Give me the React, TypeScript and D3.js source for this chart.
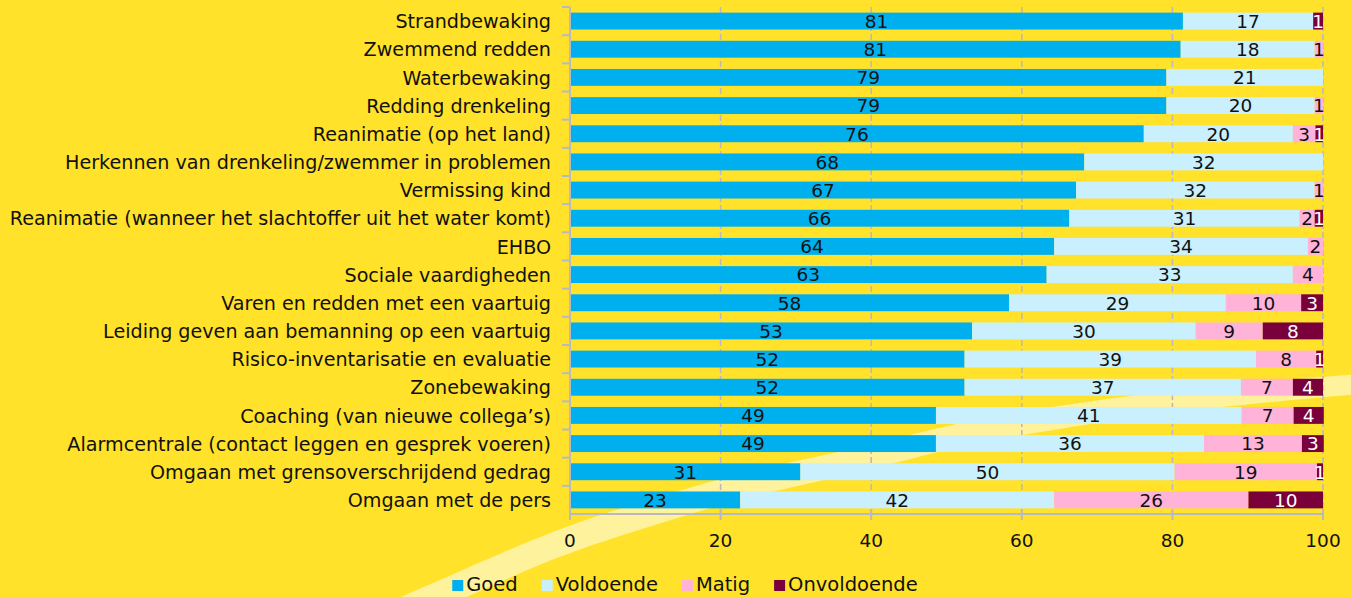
import React, { useEffect, useRef } from 'react';
import * as d3 from 'd3';

const categories = [
  'Strandbewaking',
  'Zwemmend redden',
  'Waterbewaking',
  'Redding drenkeling',
  'Reanimatie (op het land)',
  'Herkennen van drenkeling/zwemmer in problemen',
  'Vermissing kind',
  'Reanimatie (wanneer het slachtoffer uit het water komt)',
  'EHBO',
  'Sociale vaardigheden',
  'Varen en redden met een vaartuig',
  'Leiding geven aan bemanning op een vaartuig',
  'Risico-inventarisatie en evaluatie',
  'Zonebewaking',
  'Coaching (van nieuwe collega’s)',
  'Alarmcentrale (contact leggen en gesprek voeren)',
  'Omgaan met grensoverschrijdend gedrag',
  'Omgaan met de pers',
];

const goed = [81.4, 81.1, 79.2, 79.2, 76.2, 68.3, 67.2, 66.3, 64.3, 63.3, 58.3, 53.4, 52.4, 52.4, 48.6, 48.6, 30.6, 22.6];
const voldoende = [17.3, 17.8, 20.8, 19.7, 19.8, 31.7, 31.7, 30.6, 33.7, 32.7, 28.8, 29.7, 38.7, 36.7, 40.6, 35.6, 49.7, 41.7];
const matig = [0, 1.1, 0, 1.1, 3.0, 0, 1.1, 2.0, 2.0, 4.0, 10.0, 8.9, 8.0, 6.9, 6.9, 13.0, 18.9, 25.8];
const onvoldoende = [1.3, 0, 0, 0, 1.0, 0, 0, 1.1, 0, 0, 2.9, 8.0, 0.9, 4.0, 4.0, 2.9, 0.8, 9.9];

const seriesNames = ['Goed', 'Voldoende', 'Matig', 'Onvoldoende'];
const seriesColors = ['#00b0ee', '#c9f0fc', '#ffb3d9', '#7a003c'];
const labelColors = ['#111', '#111', '#111', '#fff'];
const xTicks = [0, 20, 40, 60, 80, 100];

// decorative light stripe behind the chart: centre line and thickness
const stripeCentre: [number, number][] = [
  [400, 612], [434, 597], [560, 543], [650, 513], [740, 487], [866, 458],
  [975, 432], [1170, 402], [1360, 384],
];

const W = 1351;
const H = 597;
const FONT = "'DejaVu Sans', sans-serif";

function App() {
  const ref = useRef<SVGSVGElement>(null);

  useEffect(() => {
    const svg = d3.select(ref.current);
    svg.selectAll('*').remove();

    const margin = { top: 7, right: 28, bottom: 83, left: 570 };
    const innerW = W - margin.left - margin.right;
    const innerH = H - margin.top - margin.bottom;

    svg.append('rect').attr('width', W).attr('height', H).attr('fill', '#ffe229');

    const thick = d3.scaleLinear().domain([430, 1351]).range([29, 20]).clamp(true);
    const topEdge = stripeCentre.map(([px, py]) => [px, py - thick(px) / 2] as [number, number]);
    const botEdge = stripeCentre.map(([px, py]) => [px, py + thick(px) / 2] as [number, number]).reverse();
    const edge = d3.line().curve(d3.curveCatmullRom);
    const stripePath = edge(topEdge) + 'L' + edge(botEdge)!.slice(1) + 'Z';
    svg.append('path').attr('d', stripePath).attr('fill', '#fff29c');

    const g = svg.append('g').attr('transform', `translate(${margin.left},${margin.top})`);

    const x = d3.scaleLinear().domain([0, 100]).range([0, innerW]);
    const y = d3
      .scaleBand()
      .domain(categories)
      .range([0, innerH])
      .paddingInner(0.4)
      .paddingOuter(0.2);
    const step = y.step();

    const axisColor = '#b9b9c2';

    // dashed grid
    g.selectAll('.grid')
      .data(xTicks.slice(1))
      .join('line')
      .attr('x1', (d) => x(d))
      .attr('x2', (d) => x(d))
      .attr('y1', 0)
      .attr('y2', innerH)
      .attr('stroke', axisColor)
      .attr('stroke-width', 1.6)
      .attr('stroke-dasharray', '6,3');

    const rows = categories.map((c, i) => ({
      cat: c,
      vals: [goed[i], voldoende[i], matig[i], onvoldoende[i]],
    }));
    const stack = d3.stack<any>().keys(['0', '1', '2', '3']).value((d, k) => d.vals[+k]);
    const stacked = stack(rows);

    stacked.forEach((layer, si) => {
      g.append('g')
        .selectAll('rect')
        .data(layer)
        .join('rect')
        .attr('x', (d) => x(d[0]))
        .attr('y', (d) => y(d.data.cat)!)
        .attr('width', (d) => Math.max(0, x(d[1]) - x(d[0])))
        .attr('height', y.bandwidth())
        .attr('fill', seriesColors[si]);
    });

    stacked.forEach((layer, si) => {
      g.append('g')
        .selectAll('text')
        .data(layer.filter((d) => d.data.vals[si] > 0))
        .join('text')
        .attr('x', (d) => x((d[0] + d[1]) / 2))
        .attr('y', (d) => y(d.data.cat)! + y.bandwidth() / 2)
        .attr('dy', '0.37em')
        .attr('text-anchor', 'middle')
        .attr('font-family', FONT)
        .attr('font-size', 18.5)
        .attr('fill', labelColors[si])
        .text((d) => Math.round(d.data.vals[si]));
    });

    // y axis
    g.append('line')
      .attr('x1', 0).attr('x2', 0)
      .attr('y1', 0).attr('y2', innerH)
      .attr('stroke', axisColor).attr('stroke-width', 2);
    g.selectAll('.ytick')
      .data(categories)
      .join('line')
      .attr('x1', -8).attr('x2', 0)
      .attr('y1', (d) => y(d)! - (step - y.bandwidth()) / 2)
      .attr('y2', (d) => y(d)! - (step - y.bandwidth()) / 2)
      .attr('stroke', axisColor).attr('stroke-width', 2);
    g.selectAll('.ylabel')
      .data(categories)
      .join('text')
      .attr('x', -19)
      .attr('y', (d) => y(d)! + y.bandwidth() / 2)
      .attr('dy', '0.37em')
      .attr('text-anchor', 'end')
      .attr('font-family', FONT)
      .attr('font-size', 19.15)
      .attr('fill', '#111')
      .text((d) => d);

    // x axis
    g.append('line')
      .attr('x1', 0).attr('x2', innerW)
      .attr('y1', innerH).attr('y2', innerH)
      .attr('stroke', axisColor).attr('stroke-width', 2);
    g.selectAll('.xtick')
      .data(xTicks)
      .join('line')
      .attr('x1', (d) => x(d)).attr('x2', (d) => x(d))
      .attr('y1', innerH - 5).attr('y2', innerH + 6)
      .attr('stroke', axisColor).attr('stroke-width', 2);
    g.selectAll('.xlabel')
      .data(xTicks)
      .join('text')
      .attr('x', (d) => x(d))
      .attr('y', innerH + 33)
      .attr('text-anchor', 'middle')
      .attr('font-family', FONT)
      .attr('font-size', 18.5)
      .attr('fill', '#111')
      .text((d) => d);

    // legend
    const legend = svg.append('g');
    let cx = 0;
    seriesNames.forEach((name, i) => {
      const item = legend.append('g').attr('transform', `translate(${cx},0)`);
      item.append('rect').attr('x', 0).attr('y', -11).attr('width', 11).attr('height', 11).attr('fill', seriesColors[i]);
      const t = item
        .append('text')
        .attr('x', 14)
        .attr('y', 0)
        .attr('font-family', FONT)
        .attr('font-size', 19.5)
        .attr('fill', '#111')
        .text(name);
      const tw = (t.node() as SVGTextElement).getComputedTextLength();
      cx += 14 + tw + 24;
    });
    const legendW = cx - 24;
    legend.attr('transform', `translate(${685 - legendW / 2},591)`);
  }, []);

  return (
    <svg
      ref={ref}
      width={W}
      height={H}
      style={{ position: 'fixed', left: 0, top: 0, display: 'block' }}
    />
  );
}

export default App;
